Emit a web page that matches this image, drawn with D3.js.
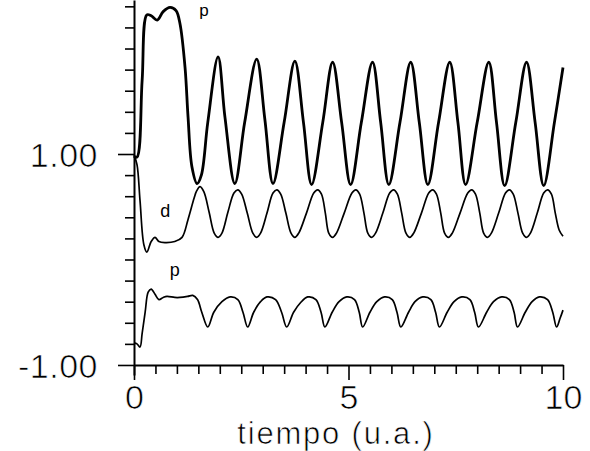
<!DOCTYPE html>
<html>
<head>
<meta charset="utf-8">
<script src="https://cdn.jsdelivr.net/npm/d3@7"></script>
<style>
  html, body { margin: 0; padding: 0; background: #fff; }
  svg { display: block; }
  text { font-family: "Liberation Sans", Arial, sans-serif; fill: #000; }
  .thin { stroke: #fff; stroke-width: 0.7px; paint-order: normal; }
</style>
</head>
<body>
<svg id="chart" width="590" height="451"></svg>
<script>
// ---- data (time in u.a., value) ----
const topP_t = [0.00,0.07,0.19,0.30,0.40,0.54,0.68,0.84,0.98,1.07,1.19,1.26,1.35,1.47,1.57,1.72,1.96,2.12,2.35,2.58,2.86,3.05,3.24,3.50,3.75,3.95,4.14,4.40,4.63,4.84,5.05,5.30,5.56,5.75,5.94,6.20,6.45,6.65,6.85,7.10,7.36,7.55,7.73,8.00,8.27,8.45,8.64,8.90,9.15,9.35,9.55,9.80,10.00];
const topP_v = [0.98,0.97,1.70,2.32,2.31,2.27,2.35,2.39,2.36,2.24,1.82,1.35,0.88,0.72,0.80,1.30,1.92,1.35,0.72,1.30,1.90,1.33,0.72,1.30,1.88,1.30,0.71,1.30,1.87,1.30,0.71,1.30,1.87,1.30,0.71,1.30,1.87,1.30,0.71,1.30,1.87,1.30,0.71,1.30,1.87,1.30,0.70,1.30,1.87,1.30,0.70,1.30,1.82];

const d_t = [0.00,0.07,0.14,0.23,0.30,0.40,0.49,0.58,0.72,0.95,1.12,1.26,1.40,1.46,1.54,1.63,1.75,1.87,1.96,2.05,2.19,2.33,2.42,2.51,2.64,2.77,2.86,2.95,3.10,3.24,3.33,3.42,3.54,3.66,3.75,3.84,4.02,4.19,4.28,4.37,4.46,4.54,4.63,4.72,4.90,5.08,5.17,5.26,5.36,5.45,5.54,5.63,5.80,5.96,6.05,6.14,6.24,6.34,6.43,6.52,6.70,6.87,6.96,7.05,7.15,7.24,7.33,7.42,7.60,7.78,7.87,7.96,8.06,8.15,8.24,8.33,8.50,8.66,8.75,8.84,8.95,9.06,9.15,9.24,9.40,9.55,9.64,9.73,9.82,9.91,10.00];
const d_v = [0.99,0.90,0.56,0.14,0.07,0.17,0.21,0.17,0.16,0.17,0.21,0.38,0.58,0.65,0.69,0.64,0.45,0.25,0.21,0.25,0.45,0.63,0.66,0.62,0.44,0.25,0.21,0.25,0.44,0.63,0.66,0.62,0.44,0.25,0.21,0.25,0.44,0.63,0.66,0.62,0.44,0.25,0.21,0.25,0.44,0.63,0.66,0.62,0.44,0.25,0.21,0.25,0.44,0.63,0.66,0.62,0.44,0.25,0.21,0.25,0.44,0.63,0.66,0.62,0.44,0.25,0.21,0.25,0.44,0.63,0.66,0.62,0.44,0.25,0.21,0.25,0.44,0.63,0.66,0.62,0.44,0.25,0.21,0.25,0.44,0.63,0.66,0.62,0.44,0.28,0.22];

const lowP_t = [0.00,0.07,0.14,0.19,0.26,0.33,0.40,0.49,0.58,0.68,0.77,0.95,1.07,1.25,1.37,1.48,1.58,1.72,1.86,2.05,2.24,2.42,2.54,2.65,2.79,2.95,3.10,3.30,3.44,3.56,3.72,3.88,4.05,4.24,4.36,4.45,4.62,4.78,4.96,5.14,5.25,5.33,5.50,5.66,5.84,6.02,6.13,6.22,6.40,6.55,6.73,6.92,7.03,7.12,7.30,7.46,7.64,7.83,7.94,8.03,8.22,8.38,8.57,8.75,8.86,8.94,9.12,9.28,9.45,9.64,9.76,9.85,9.93,10.00];
const lowP_v = [-0.79,-0.80,-0.83,-0.70,-0.50,-0.31,-0.28,-0.33,-0.38,-0.36,-0.35,-0.36,-0.36,-0.35,-0.34,-0.38,-0.50,-0.64,-0.50,-0.40,-0.355,-0.38,-0.50,-0.64,-0.50,-0.40,-0.355,-0.38,-0.50,-0.64,-0.50,-0.41,-0.355,-0.38,-0.50,-0.64,-0.50,-0.40,-0.355,-0.38,-0.50,-0.64,-0.50,-0.40,-0.355,-0.38,-0.50,-0.64,-0.50,-0.40,-0.355,-0.38,-0.50,-0.64,-0.50,-0.40,-0.355,-0.38,-0.50,-0.64,-0.50,-0.40,-0.355,-0.38,-0.50,-0.64,-0.50,-0.40,-0.355,-0.38,-0.50,-0.64,-0.56,-0.48];

const xTicks = [0,0.5,1,1.5,2,2.5,3,3.5,4,4.5,5,5.5,6,6.5,7,7.5,8,8.5,9,9.5,10];
const xMajor = [0,5,10];
const yTicks = [-1,-0.8,-0.6,-0.4,-0.2,0,0.2,0.4,0.6,0.8,1,1.2,1.4,1.6,1.8,2,2.2,2.4];
const yMajor = [-1,1];
const xLabel = "tiempo (u.a.)";
const curveLabels = [
  {text: "p", t: 1.63, v: 2.308, size: 17},
  {text: "d", t: 0.73, v: 0.40, size: 18},
  {text: "p", t: 0.95, v: -0.16, size: 18}
];

// ---- scales ----
const svg = d3.select("#chart");
const x = d3.scaleLinear().domain([0, 10]).range([134, 563]);
const y = d3.scaleLinear().domain([-1.095, 2.46]).range([375, 0]);

// ---- axes ----
const yAxis = d3.axisLeft(y)
  .tickValues(yTicks)
  .tickSizeOuter(0)
  .tickFormat(d => yMajor.includes(d) ? d.toFixed(2) : "");
const gy = svg.append("g").attr("transform", `translate(${x(0)},0)`).call(yAxis);
gy.selectAll(".tick line")
  .attr("x2", d => yMajor.includes(d) ? -16 : -9)
  .attr("stroke-width", 1.6);
gy.select(".domain").attr("stroke-width", 2);
gy.selectAll(".tick text")
  .attr("class", "thin")
  .attr("x", -36).attr("dy", "0.36em")
  .style("font-size", "34px").style("letter-spacing", "0.5px")
  .style("font-family", "'Liberation Sans', Arial, sans-serif");

const xAxis = d3.axisBottom(x)
  .tickValues(xTicks)
  .tickSizeOuter(0)
  .tickFormat(d => xMajor.includes(d) ? String(d) : "");
const gx = svg.append("g").attr("transform", `translate(0,${y(-1)})`).call(xAxis);
gx.selectAll(".tick line")
  .attr("y2", d => xMajor.includes(d) ? 15 : 9)
  .attr("stroke-width", 1.6);
gx.select(".domain").attr("stroke-width", 2);
gx.selectAll(".tick text")
  .attr("class", "thin")
  .attr("y", 20).attr("dy", "0.71em")
  .style("font-size", "34px")
  .style("font-family", "'Liberation Sans', Arial, sans-serif");

// x-axis title
svg.append("text")
  .attr("class", "thin")
  .attr("x", 336).attr("y", 444)
  .attr("text-anchor", "middle")
  .style("font-size", "31px")
  .style("letter-spacing", "1.8px")
  .text(xLabel);

// ---- curves ----
const line = d3.line()
  .x(d => x(d[0])).y(d => y(d[1]))
  .curve(d3.curveCatmullRom.alpha(0.5));

const series = [
  {t: topP_t, v: topP_v, w: 2.8},
  {t: d_t, v: d_v, w: 1.7},
  {t: lowP_t, v: lowP_v, w: 1.7}
];
svg.append("g").selectAll("path")
  .data(series)
  .join("path")
  .attr("fill", "none")
  .attr("stroke", "#000")
  .attr("stroke-linejoin", "round")
  .attr("stroke-width", s => s.w)
  .attr("d", s => line(s.t.map((t, i) => [t, s.v[i]])));

// curve labels
svg.append("g").selectAll("text")
  .data(curveLabels)
  .join("text")
  .attr("x", d => x(d.t)).attr("y", d => y(d.v))
  .attr("text-anchor", "middle")
  .style("font-size", d => d.size + "px")
  .text(d => d.text);
</script>
</body>
</html>
